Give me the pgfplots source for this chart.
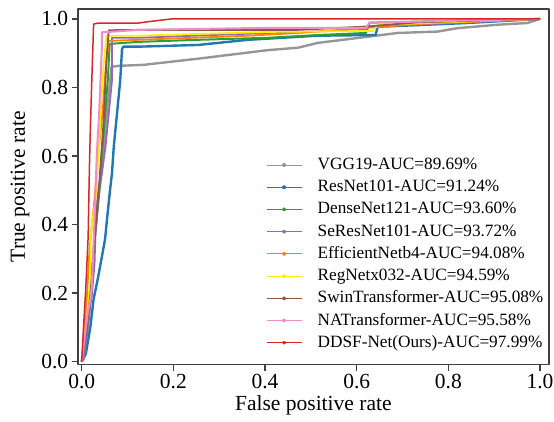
\documentclass[border=0pt]{standalone}
\usepackage{fontspec}
\setmainfont{Liberation Serif}
\usepackage{pgfplots}
\pgfplotsset{compat=1.18}

\definecolor{cgray}{RGB}{150,150,150}
\definecolor{cblue}{RGB}{31,119,180}
\definecolor{cgreen}{RGB}{44,160,44}
\definecolor{cpurple}{RGB}{148,103,189}
\definecolor{corange}{RGB}{255,127,14}
\definecolor{cyellow}{RGB}{250,240,0}
\definecolor{cbrown}{RGB}{140,86,75}
\definecolor{cpink}{RGB}{240,140,200}
\definecolor{cred}{RGB}{214,39,40}
\definecolor{frame}{RGB}{64,64,64}

\begin{document}
\begin{tikzpicture}[line join=round]
\begin{axis}[
    scale only axis,
    width=473pt,
    height=357pt,
    xmin=-0.0087, xmax=1.0196,
    ymin=-0.0087, ymax=1.029,
    xtick={0,0.2,0.4,0.6,0.8,1.0},
    ytick={0,0.2,0.4,0.6,0.8,1.0},
    /pgf/number format/fixed,
    /pgf/number format/fixed zerofill,
    /pgf/number format/precision=1,
    /pgf/number format/assume math mode=true,
    tick pos=left,
    tick align=outside,
    major tick length=6pt,
    axis line style={frame, line width=1.6pt},
    every tick/.style={frame, line width=1.4pt},
    ticklabel style={font=\fontsize{21.6}{26}\selectfont},
    label style={font=\fontsize{21.6}{26}\selectfont},
    xlabel={False positive rate},
    ylabel={True positive rate},
    ylabel shift=5pt,
    legend image code/.code={
        \draw[#1, line width=0.9pt] (0pt,0pt) -- (35pt,0pt);
        \fill[#1] (17.5pt,0pt) circle (1.1pt);
        \path (50pt,0pt);
    },
    legend style={
        at={(rel axis cs:0.3996,0.583)}, anchor=north west,
        draw=none, fill=none, inner sep=0pt,
        font=\fontsize{17.3}{21}\selectfont,
        nodes={inner sep=0pt, text height=12pt, text depth=3pt},
        row sep=7.3pt,
    },
    legend cell align=left,
]
\addplot[cgray, line width=2.4pt] coordinates {
 (0,0) (0.004,0.023) (0.013,0.096) (0.022,0.212) (0.030,0.387) (0.034,0.465)
 (0.040,0.512) (0.048,0.619) (0.054,0.712) (0.059,0.779) (0.065,0.860)
 (0.080,0.863) (0.135,0.866) (0.254,0.884) (0.407,0.909) (0.472,0.916)
 (0.515,0.930) (0.624,0.948) (0.689,0.959) (0.776,0.963) (0.820,0.973)
 (0.907,0.983) (0.972,0.988) (1,1)
};
\addlegendentry{VGG19-AUC=89.69\%}
\addplot[cblue, line width=2.4pt] coordinates {
 (0,0) (0.009,0.023) (0.019,0.102) (0.026,0.183) (0.035,0.241) (0.043,0.299)
 (0.051,0.358) (0.055,0.413) (0.062,0.503) (0.066,0.549) (0.070,0.628)
 (0.077,0.724) (0.084,0.820) (0.088,0.913) (0.091,0.919) (0.124,0.919)
 (0.254,0.924) (0.363,0.939) (0.515,0.951) (0.641,0.953) (0.646,0.977)
 (0.754,0.983) (0.841,0.988) (1,1)
};
\addlegendentry{ResNet101-AUC=91.24\%}
\addplot[cgreen, line width=2pt] coordinates {
 (0,0) (0.002,0.023) (0.009,0.067) (0.017,0.183) (0.026,0.328) (0.037,0.474)
 (0.043,0.590) (0.050,0.706) (0.057,0.823) (0.061,0.927) (0.124,0.933)
 (0.254,0.939) (0.407,0.945) (0.515,0.953) (0.620,0.959) (0.628,0.989) (1,1)
};
\addlegendentry{DenseNet121-AUC=93.60\%}
\addplot[cpurple, line width=1.8pt] coordinates {
 (0,0) (0.004,0.006) (0.011,0.073) (0.019,0.169) (0.022,0.192) (0.028,0.285)
 (0.030,0.378) (0.033,0.413) (0.037,0.509) (0.044,0.549) (0.052,0.628)
 (0.059,0.724) (0.066,0.820) (0.066,0.945) (0.124,0.945) (0.407,0.959)
 (0.620,0.968) (0.628,0.977) (1,1)
};
\addlegendentry{SeResNet101-AUC=93.72\%}
\addplot[corange, line width=1.8pt] coordinates {
 (0,0) (0.004,0.067) (0.011,0.183) (0.017,0.328) (0.028,0.474) (0.037,0.619)
 (0.046,0.735) (0.052,0.852) (0.059,0.936) (0.124,0.939) (0.363,0.951)
 (0.472,0.959) (0.624,0.974) (0.733,0.985) (1,1)
};
\addlegendentry{EfficientNetb4-AUC=94.08\%}
\addplot[cyellow, line width=1.8pt] coordinates {
 (0,0) (0.004,0.038) (0.011,0.125) (0.017,0.218) (0.019,0.233) (0.019,0.358)
 (0.022,0.395) (0.030,0.474) (0.038,0.628) (0.041,0.724) (0.048,0.869)
 (0.054,0.951) (0.124,0.951) (0.407,0.962) (0.635,0.965) (0.646,0.983) (1,1)
};
\addlegendentry{RegNetx032-AUC=94.59\%}
\addplot[cbrown, line width=1.8pt] coordinates {
 (0,0) (0.002,0.015) (0.011,0.096) (0.020,0.212) (0.030,0.387) (0.039,0.532)
 (0.048,0.706) (0.054,0.881) (0.059,0.967) (0.124,0.968) (0.472,0.968)
 (0.624,0.978) (0.733,0.990) (1,1)
};
\addlegendentry{SwinTransformer-AUC=95.08\%}
\addplot[cpink, line width=2pt] coordinates {
 (0,0) (0.002,0.020) (0.008,0.087) (0.013,0.140) (0.019,0.183) (0.022,0.218)
 (0.028,0.416) (0.033,0.608) (0.038,0.724) (0.044,0.919) (0.044,0.961)
 (0.059,0.962) (0.124,0.968) (0.407,0.974) (0.620,0.974) (0.628,0.989) (1,1)
};
\addlegendentry{NATransformer-AUC=95.58\%}
\addplot[cred, line width=1.5pt] coordinates {
 (0,0) (0.004,0.102) (0.009,0.218) (0.014,0.363) (0.016,0.509) (0.017,0.578)
 (0.019,0.686) (0.022,0.820) (0.026,0.985) (0.037,0.988) (0.124,0.988)
 (0.146,0.992) (0.196,1.0) (1,1)
};
\addlegendentry{DDSF-Net(Ours)-AUC=97.99\%}
\end{axis}
\pgfresetboundingbox
\path ([shift={(-78pt,-57pt)}]current axis.south west)
  rectangle ([shift={(5pt,9pt)}]current axis.north east);
\end{tikzpicture}
\end{document}
